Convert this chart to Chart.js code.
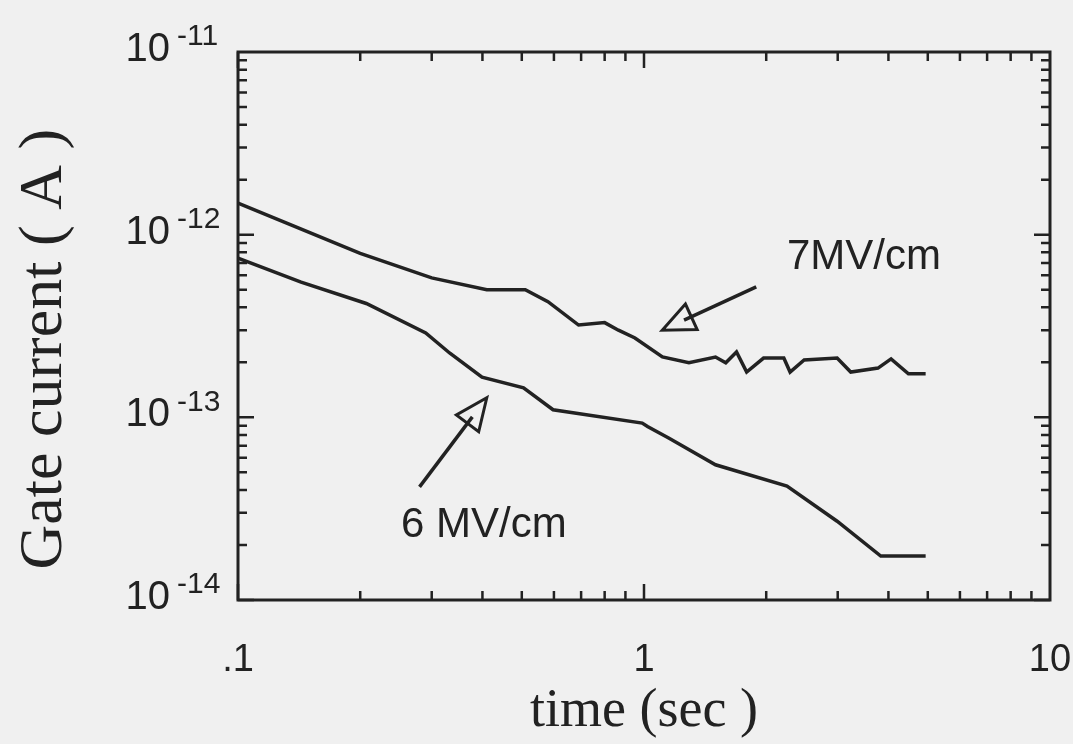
<!DOCTYPE html>
<html>
<head>
<meta charset="utf-8">
<script src="https://cdn.jsdelivr.net/npm/chart.js@4/dist/chart.umd.min.js"></script>
<style>
  body { margin: 0; background: #f0f0f0; }
  canvas { display: block; }
</style>
</head>
<body>
<canvas id="grafica" width="1073" height="744"></canvas>
<script>
// datos (tiempo en s, corriente en A)
const tiempo7 = [0.1, 0.13, 0.2, 0.3, 0.41, 0.51, 0.58, 0.69, 0.8, 0.865, 0.95, 1.11, 1.29, 1.5, 1.59, 1.69, 1.79, 1.97, 2.21, 2.29, 2.48, 2.99, 3.23, 3.77, 4.06, 4.48, 4.94];
const corriente7 = [1.49e-12, 1.17e-12, 7.9e-13, 5.8e-13, 5.0e-13, 5.0e-13, 4.3e-13, 3.2e-13, 3.3e-13, 3.0e-13, 2.72e-13, 2.14e-13, 1.99e-13, 2.14e-13, 1.99e-13, 2.28e-13, 1.77e-13, 2.11e-13, 2.11e-13, 1.77e-13, 2.06e-13, 2.11e-13, 1.77e-13, 1.86e-13, 2.09e-13, 1.73e-13, 1.73e-13];

const tiempo6 = [0.1, 0.143, 0.207, 0.29, 0.332, 0.399, 0.505, 0.597, 0.99, 1.02, 1.15, 1.5, 2.25, 2.99, 3.83, 4.94];
const corriente6 = [7.45e-13, 5.5e-13, 4.2e-13, 2.9e-13, 2.25e-13, 1.66e-13, 1.45e-13, 1.1e-13, 9.3e-14, 8.9e-14, 7.7e-14, 5.5e-14, 4.2e-14, 2.7e-14, 1.74e-14, 1.74e-14];

const xTicks = [0.1, 1, 10];
const xEtiquetas = [".1", "1", "10"];
const yTicks = [1e-11, 1e-12, 1e-13, 1e-14];
const yExponentes = ["-11", "-12", "-13", "-14"];

const series = ["7MV/cm", "6 MV/cm"];

// anotaciones: texto y flechas en coordenadas de datos
const notas = [
  { texto: "7MV/cm", x: 2.25, y: 7.46e-13, colaX: 1.89, colaY: 5.18e-13, puntaX: 1.109, puntaY: 3.0e-13 },
  { texto: "6 MV/cm", x: 0.252, y: 2.55e-14, colaX: 0.28, colaY: 4.16e-14, puntaX: 0.41, puntaY: 1.28e-13 },
];

const tinta = "#222222";
const sans = "'Liberation Sans', Arial, sans-serif";
const serif = "'Liberation Serif', 'Times New Roman', serif";

const aPuntos = (xs, ys) => xs.map((v, i) => ({ x: v, y: ys[i] }));

// marco con marcas hacia dentro en los cuatro lados
const marcoPlugin = {
  id: "marco",
  afterDraw(chart) {
    const { ctx, chartArea: a, scales } = chart;
    const x = scales.x, y = scales.y;
    ctx.save();
    ctx.strokeStyle = tinta;
    ctx.lineWidth = 3;
    ctx.strokeRect(a.left, a.top, a.right - a.left, a.bottom - a.top);
    ctx.lineWidth = 2.5;
    ctx.beginPath();
    for (let k = -1; k <= 0; k++) {
      for (let m = 1; m <= 9; m++) {
        const px = x.getPixelForValue(m * Math.pow(10, k));
        const l = m === 1 ? 16 : 9;
        ctx.moveTo(px, a.bottom); ctx.lineTo(px, a.bottom - l);
        ctx.moveTo(px, a.top); ctx.lineTo(px, a.top + l);
      }
    }
    for (let k = -14; k <= -12; k++) {
      for (let m = 1; m <= 9; m++) {
        const py = y.getPixelForValue(m * Math.pow(10, k));
        const l = m === 1 ? 16 : 9;
        ctx.moveTo(a.left, py); ctx.lineTo(a.left + l, py);
        ctx.moveTo(a.right, py); ctx.lineTo(a.right - l, py);
      }
    }
    ctx.stroke();

    // etiquetas del eje y con exponente
    ctx.fillStyle = tinta;
    yTicks.forEach((v, i) => {
      const py = y.getPixelForValue(v);
      ctx.font = "40px " + sans;
      ctx.textAlign = "right";
      ctx.textBaseline = "middle";
      ctx.fillText("10", 170, py - 2);
      ctx.font = "30px " + sans;
      ctx.textAlign = "left";
      ctx.fillText(yExponentes[i], 177, py - 15);
    });

    // notas con flecha de punta hueca
    notas.forEach((n) => {
      ctx.font = "42px " + sans;
      ctx.textAlign = "left";
      ctx.textBaseline = "middle";
      ctx.fillText(n.texto, x.getPixelForValue(n.x), y.getPixelForValue(n.y));

      const x0 = x.getPixelForValue(n.colaX), y0 = y.getPixelForValue(n.colaY);
      const x1 = x.getPixelForValue(n.puntaX), y1 = y.getPixelForValue(n.puntaY);
      const d = Math.hypot(x1 - x0, y1 - y0);
      const ux = (x1 - x0) / d, uy = (y1 - y0) / d;
      const bx = x1 - ux * 32, by = y1 - uy * 32;
      ctx.lineWidth = 3.5;
      ctx.beginPath();
      ctx.moveTo(x0, y0);
      ctx.lineTo(bx + ux * 8, by + uy * 8);
      ctx.stroke();
      ctx.lineWidth = 3;
      ctx.beginPath();
      ctx.moveTo(x1, y1);
      ctx.lineTo(bx - uy * 14, by + ux * 14);
      ctx.lineTo(bx + uy * 14, by - ux * 14);
      ctx.closePath();
      ctx.stroke();
    });
    ctx.restore();
  },
};

new Chart(document.getElementById("grafica"), {
  type: "line",
  data: {
    datasets: [
      { label: series[0], data: aPuntos(tiempo7, corriente7) },
      { label: series[1], data: aPuntos(tiempo6, corriente6) },
    ],
  },
  options: {
    responsive: false,
    animation: false,
    layout: { padding: { top: 52, right: 23 } },
    elements: {
      line: { borderColor: tinta, borderWidth: 3.5, tension: 0 },
      point: { radius: 0 },
    },
    plugins: { legend: { display: false }, tooltip: { enabled: false } },
    scales: {
      x: {
        type: "logarithmic",
        min: 0.1,
        max: 10,
        grid: { display: false },
        border: { display: false },
        afterBuildTicks: (s) => { s.ticks = xTicks.map((v) => ({ value: v })); },
        afterFit: (s) => { s.height = 144; s.paddingLeft = 0; s.paddingRight = 0; },
        ticks: {
          autoSkip: false,
          maxRotation: 0,
          padding: 30,
          color: tinta,
          font: { family: sans, size: 38 },
          callback: (v) => xEtiquetas[xTicks.indexOf(v)],
        },
        title: {
          display: true,
          text: "time (sec )",
          color: tinta,
          font: { family: serif, size: 54 },
          padding: 0,
        },
      },
      y: {
        type: "logarithmic",
        min: 1e-14,
        max: 1e-11,
        grid: { display: false },
        border: { display: false },
        ticks: { display: false },
        afterFit: (s) => { s.width = 238; s.paddingTop = 0; s.paddingBottom = 0; },
        title: {
          display: true,
          text: "Gate current ( A )   ",
          color: tinta,
          font: { family: serif, size: 62 },
          padding: { top: 8, bottom: 0 },
        },
      },
    },
  },
  plugins: [marcoPlugin],
});
</script>
</body>
</html>
